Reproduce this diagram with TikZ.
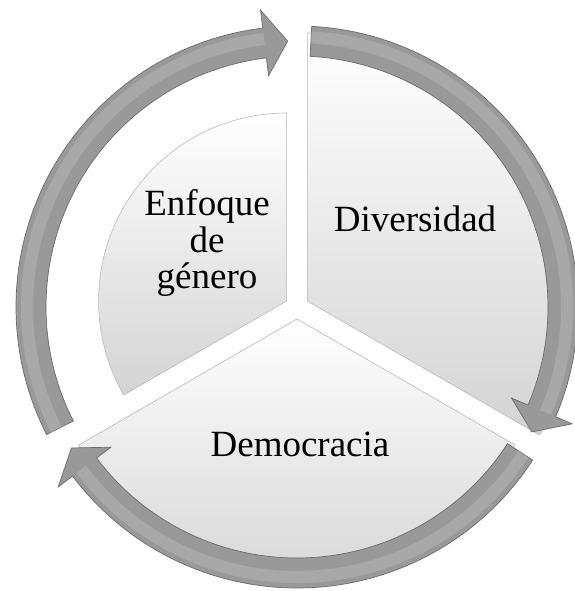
\documentclass[tikz,border=0pt]{standalone}
\usepackage{fontspec}
\setmainfont{Liberation Serif}

% curved arrow of the ring: tail angle, head base angle, tip angle
\newcommand{\ringarrow}[3]{%
  \path[band] (#1:281) arc[start angle=#1, end angle=#2, radius=281]
    -- (#2:299) -- (#3:266) -- (#2:233) -- (#2:251)
    arc[start angle=#2, end angle=#1, radius=251] -- cycle;
  \draw[shine] (#1:270) arc[start angle=#1, end angle=#2, radius=270];
}

\begin{document}
\begin{tikzpicture}[
    x=1pt, y=1pt,
    segment/.style={draw=black!28, line width=0.6pt, shading=axis, top color=white, bottom color=black!17},
    band/.style={fill=black!40, draw=black!58, line width=0.7pt},
    shine/.style={white, opacity=0.15, line width=12pt},
    label/.style={font=\fontsize{37}{36.5}\selectfont, align=center, text=black}
]
\useasboundingbox (-297,-284) rectangle (277,307);

% Segments
\path[segment, shift={(150:12)}] (0,0) -- (90:188) arc[start angle=90, end angle=210, radius=188] -- cycle;
\path[segment, shift={(30:12)}] (0,0) -- (90:268) arc[start angle=90, end angle=-30, radius=268] -- cycle;
\path[segment, shift={(270:12)}] (0,0) -- (210:252) arc[start angle=210, end angle=330, radius=252] -- cycle;

% Arrows
\ringarrow{207}{97}{92}
\ringarrow{87}{-23}{-28}
\ringarrow{-33}{-143}{-148}

% Labels
\node[label] (enfoque) at (-90,64) {Enfoque\\de\\género};
\node[label, anchor=base] (diversidad) at (118,75) {Diversidad};
\node[label, anchor=base] (democracia) at (3,-149) {Democracia};

\end{tikzpicture}
\end{document}
